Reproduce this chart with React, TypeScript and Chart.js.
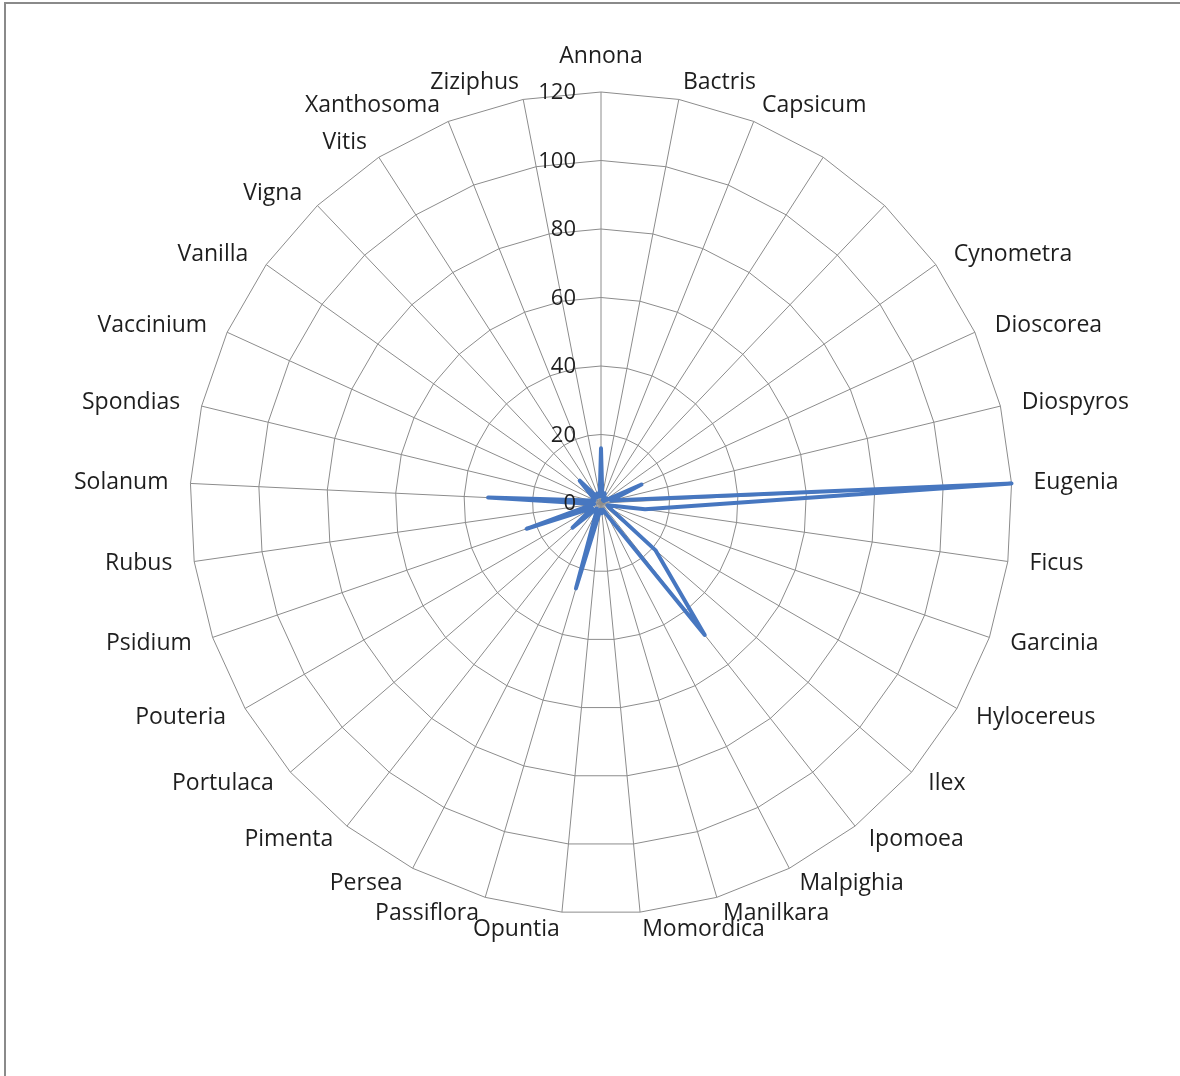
import React, { useEffect, useRef } from "react";
import { Chart, registerables } from "chart.js";

Chart.register(...registerables);

const categories: string[] = [
  "Annona", "Bactris", "Capsicum", "", "", "Cynometra", "Dioscorea", "Diospyros",
  "Eugenia", "Ficus", "Garcinia", "Hylocereus", "Ilex", "Ipomoea", "Malpighia",
  "Manilkara", "Momordica", "Opuntia", "Passiflora", "Persea", "Pimenta",
  "Portulaca", "Pouteria", "Psidium", "Rubus", "Solanum", "Spondias",
  "Vaccinium", "Vanilla", "Vigna", "Vitis", "Xanthosoma", "Ziziphus",
];

const seriesValues: number[] = [
  16, 2, 3, 1, 2, 1, 13, 3,
  120, 13, 2, 3, 21, 49, 4,
  2, 3, 2, 26, 3, 2,
  11, 3, 23, 2, 33, 3,
  2, 3, 9, 2, 3, 2,
];

const tickValues: number[] = [0, 20, 40, 60, 80, 100, 120];
const axisMin = 0;
const axisMax = 120;
const axisStep = 20;

const FONT = "'Open Sans', sans-serif";
const TEXT_COLOR = "#1e1e1e";

// Tick labels drawn to the left of the vertical axis, as in the reference.
const tickLabelPlugin = {
  id: "leftTickLabels",
  afterDatasetsDraw(chart: any) {
    const scale = chart.scales.r;
    const ctx = chart.ctx;
    ctx.save();
    ctx.font = `22px ${FONT}`;
    ctx.fillStyle = TEXT_COLOR;
    ctx.textAlign = "right";
    ctx.textBaseline = "middle";
    tickValues.forEach((v) => {
      const d = scale.getDistanceFromCenterForValue(v);
      ctx.fillText(String(v), scale.xCenter - 25, scale.yCenter - d + 1);
    });
    ctx.restore();
  },
};

// Category labels placed Excel-style around the outer ring.
const categoryLabelPlugin = {
  id: "categoryLabels",
  afterDatasetsDraw(chart: any) {
    const scale = chart.scales.r;
    const ctx = chart.ctx;
    const R = scale.drawingArea;
    ctx.save();
    ctx.font = `23px ${FONT}`;
    ctx.fillStyle = TEXT_COLOR;
    ctx.textBaseline = "middle";
    categories.forEach((label, i) => {
      if (!label) return;
      const pH = scale.getPointPosition(i, R + 22);
      const pV = scale.getPointPosition(i, R + 17);
      const dx = pH.x - scale.xCenter;
      let x = pH.x;
      let y = pV.y;
      if (Math.abs(dx) < 2) {
        ctx.textAlign = "center";
        x = scale.xCenter;
        y = pV.y - 19;
      } else if (dx > 0) {
        ctx.textAlign = "left";
      } else {
        ctx.textAlign = "right";
      }
      ctx.fillText(label, x, y);
    });
    ctx.restore();
  },
};

export default function App() {
  const canvasRef = useRef<HTMLCanvasElement | null>(null);

  useEffect(() => {
    if (!canvasRef.current) return;
    const chart = new Chart(canvasRef.current, {
      type: "radar",
      data: {
        labels: categories,
        datasets: [
          {
            label: "Series 1",
            data: seriesValues,
            borderColor: "#4777c0",
            backgroundColor: "rgba(0,0,0,0)",
            borderWidth: 4,
            borderJoinStyle: "round",
            pointRadius: 0,
            pointHoverRadius: 0,
            fill: false,
            tension: 0,
          },
        ],
      },
      options: {
        responsive: false,
        animation: false,
        events: [],
        layout: { padding: { left: 190, right: 168, top: 92, bottom: 162 } },
        plugins: {
          legend: { display: false },
          tooltip: { enabled: false },
          title: { display: false },
        },
        scales: {
          r: {
            min: axisMin,
            max: axisMax,
            beginAtZero: true,
            ticks: { display: false, stepSize: axisStep },
            grid: { color: "#8c8c8c", lineWidth: 1, circular: false },
            angleLines: { color: "#8c8c8c", lineWidth: 1 },
            pointLabels: { display: false },
          },
        },
      },
      plugins: [tickLabelPlugin, categoryLabelPlugin],
    });
    return () => chart.destroy();
  }, []);

  return (
    <div
      style={{
        position: "absolute",
        left: 0,
        top: 0,
        width: 1180,
        height: 1076,
        background: "#ffffff",
        overflow: "hidden",
      }}
    >
      <div
        style={{
          position: "absolute",
          left: 4,
          top: 2,
          width: 1200,
          height: 1100,
          borderTop: "2px solid #8a8a8a",
          borderLeft: "2px solid #8a8a8a",
          boxSizing: "border-box",
        }}
      />
      <canvas
        ref={canvasRef}
        width={1180}
        height={1076}
        style={{ position: "absolute", left: 0, top: 0 }}
      />
    </div>
  );
}
